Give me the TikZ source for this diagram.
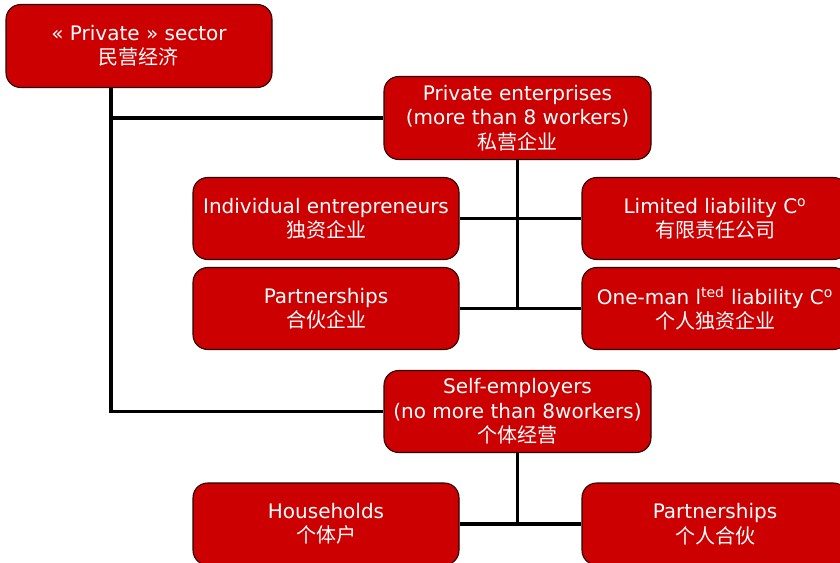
\documentclass[tikz,border=0pt]{standalone}
\usepackage{fontspec}
\setmainfont{DejaVu Sans}
\newfontfamily\cjk{Noto Sans CJK SC}
\usetikzlibrary{calc}
\definecolor{boxred}{HTML}{CC0000}
\definecolor{boxedge}{HTML}{2A0000}
\begin{document}
\begin{tikzpicture}[x=0.75pt,y=-0.75pt,
  org/.style={draw=boxedge, line width=0.8pt, fill=boxred, rounded corners=11pt,
    minimum width=266*0.75pt, minimum height=82*0.75pt, inner sep=0pt,
    text=white, align=center, font=\fontsize{15}{18.3}\selectfont},
  conn/.style={draw=black, line width=2.3pt}]
\useasboundingbox (0,0) rectangle (840,563);
\node[org, minimum height=83*0.75pt] (top) at (139,46) {« Private » sector\\{\cjk 民营经济}};
\node[org, minimum width=267*0.75pt, minimum height=83*0.75pt] (pe) at (517.5,118) {Private enterprises\\(more than 8 workers)\\{\cjk 私营企业}};
\node[org] (ie) at (326,218.5) {Individual entrepreneurs\\{\cjk 独资企业}};
\node[org] (lc) at (715,218.5) {Limited liability C\textsuperscript{o}\\{\cjk 有限责任公司}};
\node[org] (pa) at (326,308.5) {Partnerships\\{\cjk 合伙企业}};
\node[org] (om) at (715,308.5) {One-man l\textsuperscript{ted} liability C\textsuperscript{o}\\{\cjk 个人独资企业}};
\node[org, minimum width=267*0.75pt] (se) at (517.5,411.5) {Self-employers\\(no more than 8workers)\\{\cjk 个体经营}};
\node[org] (hh) at (326,524) {Households\\{\cjk 个体户}};
\node[org] (p2) at (715,524) {Partnerships\\{\cjk 个人合伙}};
\draw[conn] ($(top.south)+(-28,0)$) |- (pe.west);
\draw[conn] ($(top.south)+(-28,0)$) |- (se.west);
\draw[conn] (pe.south) -- (pe.south |- pa.east);
\draw[conn] (ie.east) -- (lc.west);
\draw[conn] (pa.east) -- (om.west);
\draw[conn] (se.south) -- (se.south |- hh.east);
\draw[conn] (hh.east) -- (p2.west);
\end{tikzpicture}
\end{document}
